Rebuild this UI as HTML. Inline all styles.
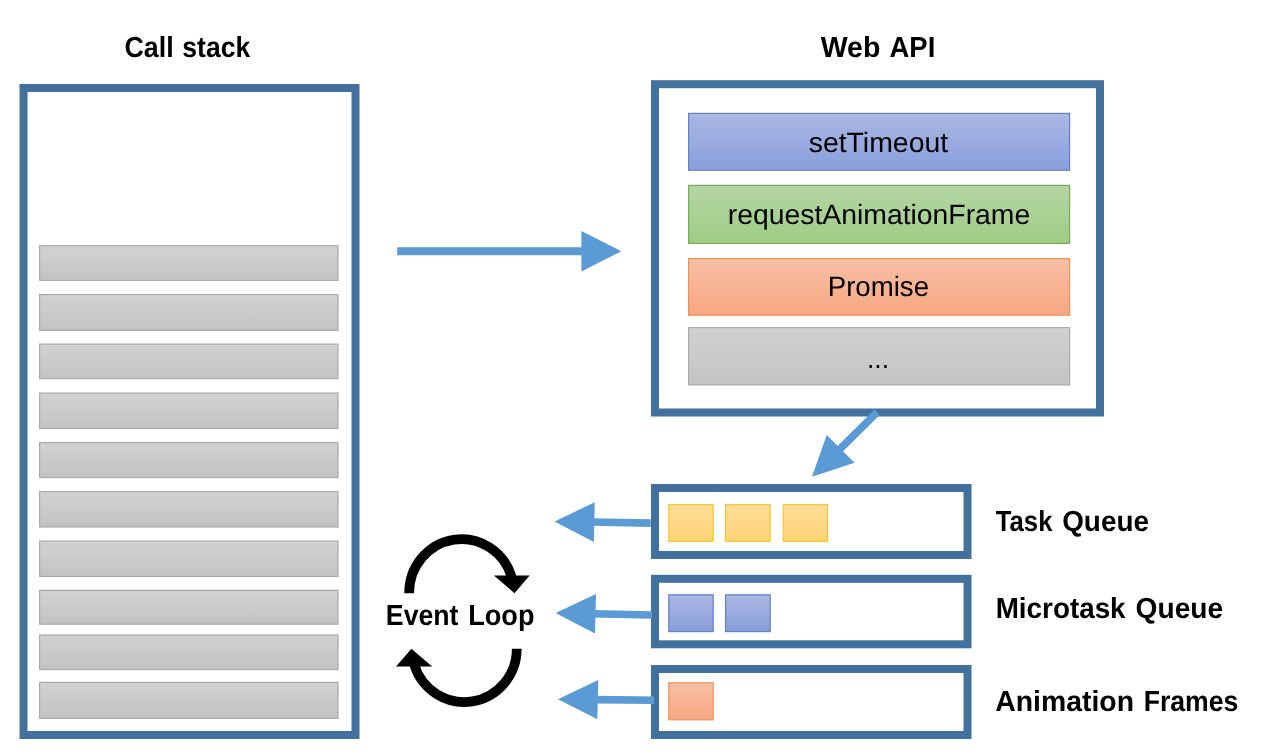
<!DOCTYPE html>
<html>
<head>
<meta charset="utf-8">
<title>Event Loop</title>
<style>
  html, body { margin: 0; padding: 0; background: #ffffff; }
  body { width: 1262px; height: 756px; overflow: hidden; font-family: "Liberation Sans", sans-serif; }
  svg { display: block; }
  text { font-family: "Liberation Sans", sans-serif; fill: #000; }
  .b { font-weight: bold; }
</style>
</head>
<body>
<svg width="1262" height="756" viewBox="0 0 1262 756">
  <defs>
    <linearGradient id="gGray" x1="0" y1="0" x2="0" y2="1">
      <stop offset="0" stop-color="#d2d2d2"/><stop offset="1" stop-color="#c3c3c3"/>
    </linearGradient>
    <linearGradient id="gBlue" x1="0" y1="0" x2="0" y2="1">
      <stop offset="0" stop-color="#aab8e3"/><stop offset="1" stop-color="#889edb"/>
    </linearGradient>
    <linearGradient id="gGreen" x1="0" y1="0" x2="0" y2="1">
      <stop offset="0" stop-color="#b5d6a4"/><stop offset="1" stop-color="#9ecc85"/>
    </linearGradient>
    <linearGradient id="gOrange" x1="0" y1="0" x2="0" y2="1">
      <stop offset="0" stop-color="#f7bfa5"/><stop offset="1" stop-color="#f7a780"/>
    </linearGradient>
    <linearGradient id="gYellow" x1="0" y1="0" x2="0" y2="1">
      <stop offset="0" stop-color="#ffdd99"/><stop offset="1" stop-color="#ffd476"/>
    </linearGradient>
  </defs>
  <rect x="0" y="0" width="1262" height="756" fill="#ffffff"/>

  <!-- Frames -->
  <g fill="#ffffff" stroke="#41719c" stroke-width="8">
    <rect x="23.5" y="88" width="332" height="647"/>
    <rect x="655" y="84.2" width="445" height="328.3"/>
    <rect x="655" y="488" width="312.5" height="67"/>
    <rect x="655" y="578.8" width="312.5" height="65.5"/>
    <rect x="655" y="669" width="312.5" height="66"/>
  </g>

  <!-- Call stack bars -->
  <g fill="url(#gGray)" stroke="#ababab" stroke-width="1.2">
    <rect x="39.6" y="245.6" width="298.4" height="34.8"/>
    <rect x="39.6" y="294.6" width="298.4" height="35.8"/>
    <rect x="39.6" y="344.1" width="298.4" height="34.6"/>
    <rect x="39.6" y="393.1" width="298.4" height="35.4"/>
    <rect x="39.6" y="442.6" width="298.4" height="35"/>
    <rect x="39.6" y="491.6" width="298.4" height="35.4"/>
    <rect x="39.6" y="541.1" width="298.4" height="35.4"/>
    <rect x="39.6" y="590.4" width="298.4" height="33.8"/>
    <rect x="39.6" y="635" width="298.4" height="34.6"/>
    <rect x="39.6" y="682.4" width="298.4" height="36"/>
  </g>

  <!-- Web API boxes -->
  <rect x="688.6" y="113.4" width="381" height="56.8" fill="url(#gBlue)" stroke="#6380c5" stroke-width="1.2"/>
  <rect x="688.6" y="185.4" width="381" height="58" fill="url(#gGreen)" stroke="#7aab5c" stroke-width="1.2"/>
  <rect x="688.6" y="258.6" width="381" height="56.6" fill="url(#gOrange)" stroke="#ea935e" stroke-width="1.2"/>
  <rect x="688.6" y="327.6" width="381" height="57.3" fill="url(#gGray)" stroke="#ababab" stroke-width="1.2"/>

  <!-- Queue items -->
  <g fill="url(#gYellow)" stroke="#f8c633" stroke-width="1.2">
    <rect x="668.8" y="504.6" width="44.4" height="36.8"/>
    <rect x="725.6" y="504.6" width="44.6" height="36.8"/>
    <rect x="783.4" y="504.6" width="44.2" height="36.8"/>
  </g>
  <g fill="url(#gBlue)" stroke="#6380c5" stroke-width="1.2">
    <rect x="668.8" y="594.8" width="44.4" height="36.8"/>
    <rect x="725.6" y="594.8" width="44.6" height="36.8"/>
  </g>
  <rect x="668.8" y="682.8" width="44.4" height="37" fill="url(#gOrange)" stroke="#ea935e" stroke-width="1.2"/>

  <!-- Arrows -->
  <g fill="#5b9bd5" stroke="none">
    <!-- call stack -> web api -->
    <polygon points="397.2,247.3 581.4,247.3 581.4,231 621.4,251.2 581.4,271.4 581.4,255.3 397.2,255.3"/>
  </g>
  <g stroke="#5b9bd5" stroke-width="7.6" fill="none">
    <line x1="877.1" y1="412.3" x2="838" y2="451"/>
    <line x1="650.8" y1="523.1" x2="592" y2="522"/>
    <line x1="652" y1="615" x2="593" y2="613.8"/>
    <line x1="654" y1="700.2" x2="595" y2="699.6"/>
  </g>
  <g fill="#5b9bd5">
    <polygon points="812,476.8 826.7,434.9 854.6,462.7"/>
    <polygon points="554.5,521.5 594.7,502.2 593.9,541.9"/>
    <polygon points="555.6,613.1 596,594.1 595,633.5"/>
    <polygon points="558,699.2 598.2,679.9 597.4,719.3"/>
  </g>

  <!-- Event loop circular arrows -->
  <g fill="none" stroke="#000" stroke-width="9.7">
    <path d="M 409.15 593.2 A 52.45 53.85 0 0 1 511.7 577"/>
    <path d="M 516.75 648.7 A 52.45 53.2 0 0 1 414.3 664.9"/>
  </g>
  <g fill="#000">
    <polygon points="493.9,575.5 529.6,575.5 514.5,593.2"/>
    <polygon points="411.4,648.7 396.05,666.5 432.2,666.5"/>
  </g>

  <!-- Text -->
  <g style="will-change:transform;text-rendering:geometricPrecision">
  <text class="b" x="124.38" y="56.7" font-size="29" textLength="49.23" lengthAdjust="spacingAndGlyphs">Call</text>
  <text class="b" x="182.30" y="56.7" font-size="29" textLength="67.87" lengthAdjust="spacingAndGlyphs">stack</text>
  <text class="b" x="820.67" y="56.7" font-size="29" textLength="59.71" lengthAdjust="spacingAndGlyphs">Web</text>
  <text class="b" x="889.56" y="56.7" font-size="29" textLength="45.74" lengthAdjust="spacingAndGlyphs">API</text>
  <text x="808.69" y="151.6" font-size="28" textLength="139.43" lengthAdjust="spacingAndGlyphs">setTimeout</text>
  <text x="727.76" y="223.6" font-size="28" textLength="302.50" lengthAdjust="spacingAndGlyphs">requestAnimationFrame</text>
  <text x="827.72" y="295.5" font-size="28" textLength="101.35" lengthAdjust="spacingAndGlyphs">Promise</text>
  <text x="866.97" y="367.6" font-size="28" textLength="22.12" lengthAdjust="spacingAndGlyphs">...</text>
  <text class="b" x="385.85" y="625.4" font-size="29" textLength="72.63" lengthAdjust="spacingAndGlyphs">Event</text>
  <text class="b" x="468.19" y="625.4" font-size="29" textLength="66.31" lengthAdjust="spacingAndGlyphs">Loop</text>
  <text class="b" x="995.80" y="531.3" font-size="29" textLength="56.64" lengthAdjust="spacingAndGlyphs">Task</text>
  <text class="b" x="1062.17" y="531.3" font-size="29" textLength="86.82" lengthAdjust="spacingAndGlyphs">Queue</text>
  <text class="b" x="995.65" y="618.2" font-size="29" textLength="129.96" lengthAdjust="spacingAndGlyphs">Microtask</text>
  <text class="b" x="1135.62" y="618.2" font-size="29" textLength="87.56" lengthAdjust="spacingAndGlyphs">Queue</text>
  <text class="b" x="995.20" y="711" font-size="29" textLength="138.80" lengthAdjust="spacingAndGlyphs">Animation</text>
  <text class="b" x="1143.63" y="711" font-size="29" textLength="94.81" lengthAdjust="spacingAndGlyphs">Frames</text>
  </g>
</svg>
</body>
</html>
